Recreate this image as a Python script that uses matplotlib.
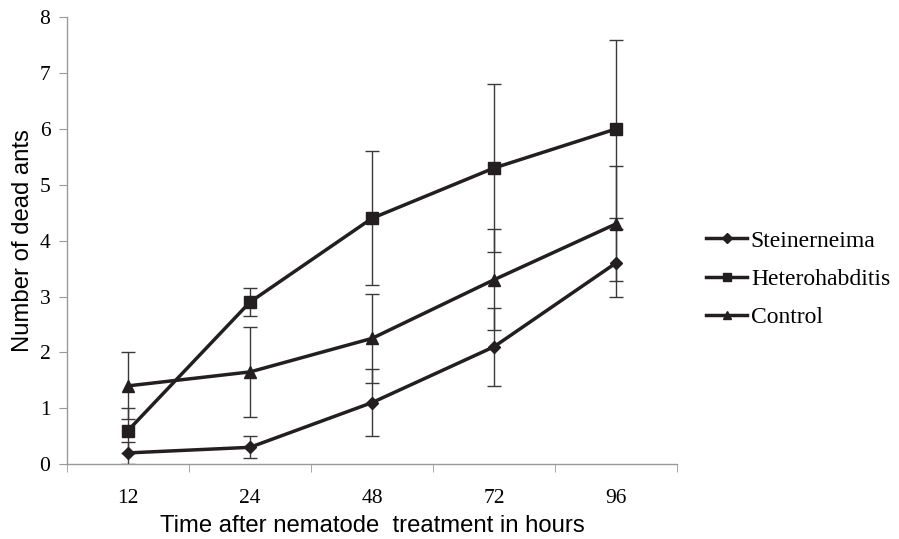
import numpy as np
import matplotlib
matplotlib.use("Agg")
import matplotlib.pyplot as plt
from matplotlib.lines import Line2D

# data
hours = ["12", "24", "48", "72", "96"]
stein = [0.2, 0.3, 1.1, 2.1, 3.6]
stein_err = [0.2, 0.2, 0.6, 0.7, 0.6]
hetero = [0.6, 2.9, 4.4, 5.3, 6.0]
hetero_err = [0.4, 0.25, 1.2, 1.5, 1.6]
control = [1.4, 1.65, 2.25, 3.3, 4.3]
control_err = [0.6, 0.8, 0.8, 0.9, 1.03]

serif = "Liberation Serif"
sans = "Liberation Sans"
ink = "#231f20"

fig = plt.figure(figsize=(8.99, 5.39), dpi=100)
ax = fig.add_axes([0.0745, 0.139, 0.6785, 0.829])

x = np.arange(len(hours))
series = [
    ("Steinerneima", stein, stein_err, "D", 6),
    ("Heterohabditis", hetero, hetero_err, "s", 8),
    ("Control", control, control_err, "^", 8),
]
handles = []
for name, vals, err, mk, ms in series:
    ax.errorbar(x, vals, yerr=err, color=ink, ecolor="#3a3a3a", elinewidth=1.0,
                capsize=5, capthick=1.0, lw=2.5, marker=mk, markersize=ms)
    handles.append(Line2D([], [], color=ink, lw=2.5, marker=mk,
                          markersize=ms * 0.8, label=name))

ax.set_xlim(-0.5, len(hours) - 0.5)
ax.set_ylim(0, 8)
ax.set_yticks(range(0, 9))
ax.set_xticks(x)
ax.set_xticklabels(hours)
ax.set_xticks(np.arange(-0.5, len(hours)), minor=True)
ax.tick_params(axis="x", which="major", length=0, pad=18)
ax.tick_params(axis="x", which="minor", length=6, color="#999999", direction="out")
ax.tick_params(axis="y", length=6, color="#999999", direction="out", pad=6)
for lab in ax.get_xticklabels() + ax.get_yticklabels():
    lab.set_fontfamily(serif)
    lab.set_fontsize(15.5)

for s in ["top", "right"]:
    ax.spines[s].set_visible(False)
for s in ["left", "bottom"]:
    ax.spines[s].set_color("#999999")
    ax.spines[s].set_linewidth(1.0)

ax.set_xlabel("Time after nematode  treatment in hours", fontfamily=sans,
              fontsize=17.2, labelpad=5)
ax.set_ylabel("Number of dead ants", fontfamily=sans, fontsize=17.2, labelpad=4)

fig.legend(handles=handles, loc="center left",
           bbox_to_anchor=(706 / 899, 1 - 279 / 539), frameon=False,
           prop={"family": serif, "size": 17}, handlelength=1.75,
           handletextpad=0.15, labelspacing=0.7, borderpad=0, borderaxespad=0)

fig.savefig("out.png", dpi=100)
